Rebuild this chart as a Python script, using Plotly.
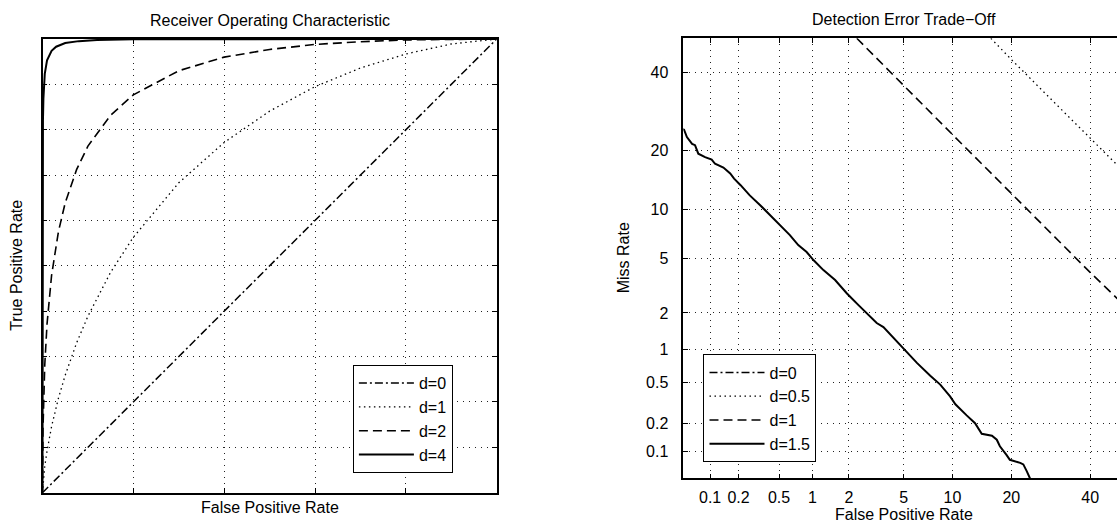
from statistics import NormalDist
import plotly.graph_objects as go

# ---------------- data ----------------
# ROC panel: false positive rate / true positive rate (fractions)
roc_fpr_d0 = [0.0, 1.0]
roc_tpr_d0 = [0.0, 1.0]

roc_fpr_d1 = [0, 0.002, 0.005, 0.01, 0.02, 0.035, 0.05, 0.075, 0.1, 0.15, 0.2, 0.3, 0.4, 0.5, 0.6, 0.7, 0.8, 0.9, 1.0]
roc_tpr_d1 = [0, 0.030, 0.058, 0.092, 0.146, 0.208, 0.259, 0.330, 0.389, 0.486, 0.563, 0.683, 0.772, 0.841, 0.895, 0.936, 0.967, 0.989, 1.0]

roc_fpr_d2 = [0, 0.001, 0.005, 0.01, 0.02, 0.035, 0.05, 0.075, 0.1, 0.15, 0.2, 0.3, 0.4, 0.5, 0.6, 0.7, 0.8, 0.9, 1.0]
roc_tpr_d2 = [0, 0.138, 0.282, 0.372, 0.479, 0.575, 0.639, 0.712, 0.764, 0.832, 0.877, 0.930, 0.960, 0.977, 0.988, 0.994, 0.998, 0.9995, 1.0]

roc_fpr_d4 = [0, 0.0002, 0.001, 0.002, 0.005, 0.01, 0.02, 0.03, 0.05, 0.08, 0.12, 0.2, 0.3, 0.5, 0.7, 1.0]
roc_tpr_d4 = [0, 0.677, 0.819, 0.869, 0.923, 0.953, 0.974, 0.983, 0.991, 0.9953, 0.9976, 0.9992, 0.9997, 1.0, 1.0, 1.0]

roc_labels = ["d=0", "d=1", "d=2", "d=4"]

# DET panel: false positive rate / miss rate (percent)
det_fpr_a = [50, 80]
det_miss_a = [50, 20]

det_fpr_b = [16, 20, 30, 40, 50]
det_miss_b = [50, 43.7, 31.7, 22.8, 15.9]

det_fpr_c = [2.3, 5, 10, 20, 40, 50]
det_miss_c = [50, 36.1, 23.6, 12.3, 4.0, 2.3]

det_fpr_d = [0.03, 0.051, 0.055, 0.063, 0.068, 0.074, 0.088, 0.104, 0.113, 0.139, 0.164, 0.18, 0.21,
             0.24, 0.26, 0.33, 0.41, 0.51, 0.63, 0.75, 0.89, 1.02, 1.24, 1.55, 1.92, 2.37, 2.74,
             3.24, 3.62, 4.25, 5.1, 6.1, 7.4, 8.5, 9.7, 10.4, 12.0, 13.3, 14.4, 16.2, 17.1, 17.7,
             19.0, 19.7, 21.9, 22.6, 23.4, 24.1, 25.0]
det_miss_d = [27.0, 24.7, 23.0, 21.5, 21.2, 19.4, 18.7, 18.2, 17.4, 16.7, 15.6, 14.7, 13.6,
              12.5, 12.0, 10.6, 9.3, 8.1, 7.05, 6.1, 5.5, 4.86, 4.15, 3.53, 2.83, 2.3, 1.99,
              1.66, 1.54, 1.25, 0.99, 0.76, 0.58, 0.48, 0.37, 0.31, 0.24, 0.20, 0.155, 0.148, 0.134, 0.114,
              0.092, 0.081, 0.075, 0.072, 0.060, 0.050, 0.040]

det_labels = ["d=0", "d=0.5", "d=1", "d=1.5"]
det_ticks = [0.1, 0.2, 0.5, 1, 2, 5, 10, 20, 40]
det_ticktext = ["0.1", "0.2", "0.5", "1", "2", "5", "10", "20", "40"]

# ---------------- helpers ----------------
ND = NormalDist()


def probit(pcts):
    return [ND.inv_cdf(v / 100.0) for v in pcts]


W, H = 1117, 523
FONT = "Liberation Sans, Arial, Helvetica, sans-serif"
FS = 16

styles = [
    dict(dash="8px,3px,2px,3px", width=1.5),
    dict(dash="1.5px,3.5px", width=1.3),
    dict(dash="9px,5px", width=1.6),
    dict(dash="solid", width=2),
]

fig = go.Figure()

roc_data = [(roc_fpr_d0, roc_tpr_d0), (roc_fpr_d1, roc_tpr_d1), (roc_fpr_d2, roc_tpr_d2), (roc_fpr_d4, roc_tpr_d4)]
for (xs, ys), lab, st in zip(roc_data, roc_labels, styles):
    fig.add_trace(go.Scatter(x=xs, y=ys, mode="lines", name=lab,
                             line=dict(color="black", **st),
                             xaxis="x", yaxis="y", legend="legend"))

det_data = [(det_fpr_a, det_miss_a), (det_fpr_b, det_miss_b), (det_fpr_c, det_miss_c), (det_fpr_d, det_miss_d)]
for (xs, ys), lab, st in zip(det_data, det_labels, styles):
    fig.add_trace(go.Scatter(x=probit(xs), y=probit(ys), mode="lines", name=lab,
                             line=dict(color="black", **st),
                             xaxis="x2", yaxis="y2", legend="legend2"))

grid = dict(showgrid=True, gridcolor="#222", gridwidth=1, griddash="1px,5px",
            zeroline=False, showline=True, linecolor="black", linewidth=1.5,
            ticks="inside", ticklen=5, tickcolor="black", tickwidth=1)

# left panel pixel box
L0, L1, LT, LB = 42.5, 496.7, 39.0, 492.7
R0, RT, RB = 683.3, 38.3, 478.3

fig.update_layout(
    width=W, height=H,
    margin=dict(l=0, r=0, t=0, b=0),
    paper_bgcolor="white", plot_bgcolor="white",
    font=dict(family=FONT, size=FS, color="black"),
    xaxis=dict(domain=[L0 / W, L1 / W], range=[0, 1], dtick=0.2, tick0=0,
               showticklabels=False, mirror="ticks", anchor="y", **grid),
    yaxis=dict(domain=[1 - LB / H, 1 - LT / H], range=[0, 1], dtick=0.1, tick0=0,
               showticklabels=False, mirror="ticks", anchor="x", **grid),
    xaxis2=dict(domain=[R0 / W, 1.0],
                range=[ND.inv_cdf(0.0005), ND.inv_cdf(0.479)],
                tickmode="array", tickvals=probit(det_ticks), ticktext=det_ticktext,
                mirror="ticks", anchor="y2", ticklabelstandoff=4,
                tickfont=dict(size=FS), **grid),
    yaxis2=dict(domain=[1 - RB / H, 1 - RT / H],
                range=[ND.inv_cdf(0.0005), 0.0],
                tickmode="array", tickvals=probit(det_ticks), ticktext=det_ticktext,
                mirror=False, anchor="x2", ticklabelstandoff=10,
                tickfont=dict(size=FS), **grid),
    legend=dict(x=352.7 / W, y=1 - 365 / H, xanchor="left", yanchor="top",
                bgcolor="white", bordercolor="black", borderwidth=1.2,
                font=dict(size=FS), itemwidth=55, tracegroupgap=0),
    legend2=dict(x=703.3 / W, y=1 - 354.3 / H, xanchor="left", yanchor="top",
                 bgcolor="white", bordercolor="black", borderwidth=1.2,
                 font=dict(size=FS), itemwidth=55, tracegroupgap=0),
    showlegend=True,
)

ann = [
    ("Receiver Operating Characteristic", (L0 + L1) / 2, 21, 0),
    ("False Positive Rate", (L0 + L1) / 2, 507, 0),
    ("True Positive Rate", 17, (LT + LB) / 2, -90),
    ("Detection Error Trade\u2212Off", 904, 20, 0),
    ("False Positive Rate", 904, 514, 0),
    ("Miss Rate", 623, (RT + RB) / 2, -90),
]
for text, px, py, rot in ann:
    fig.add_annotation(text=text, x=px / W, y=1 - py / H, xref="paper", yref="paper",
                       xanchor="center", yanchor="middle", showarrow=False,
                       textangle=rot, font=dict(size=FS, family=FONT, color="black"))

fig.write_html("out.html")
